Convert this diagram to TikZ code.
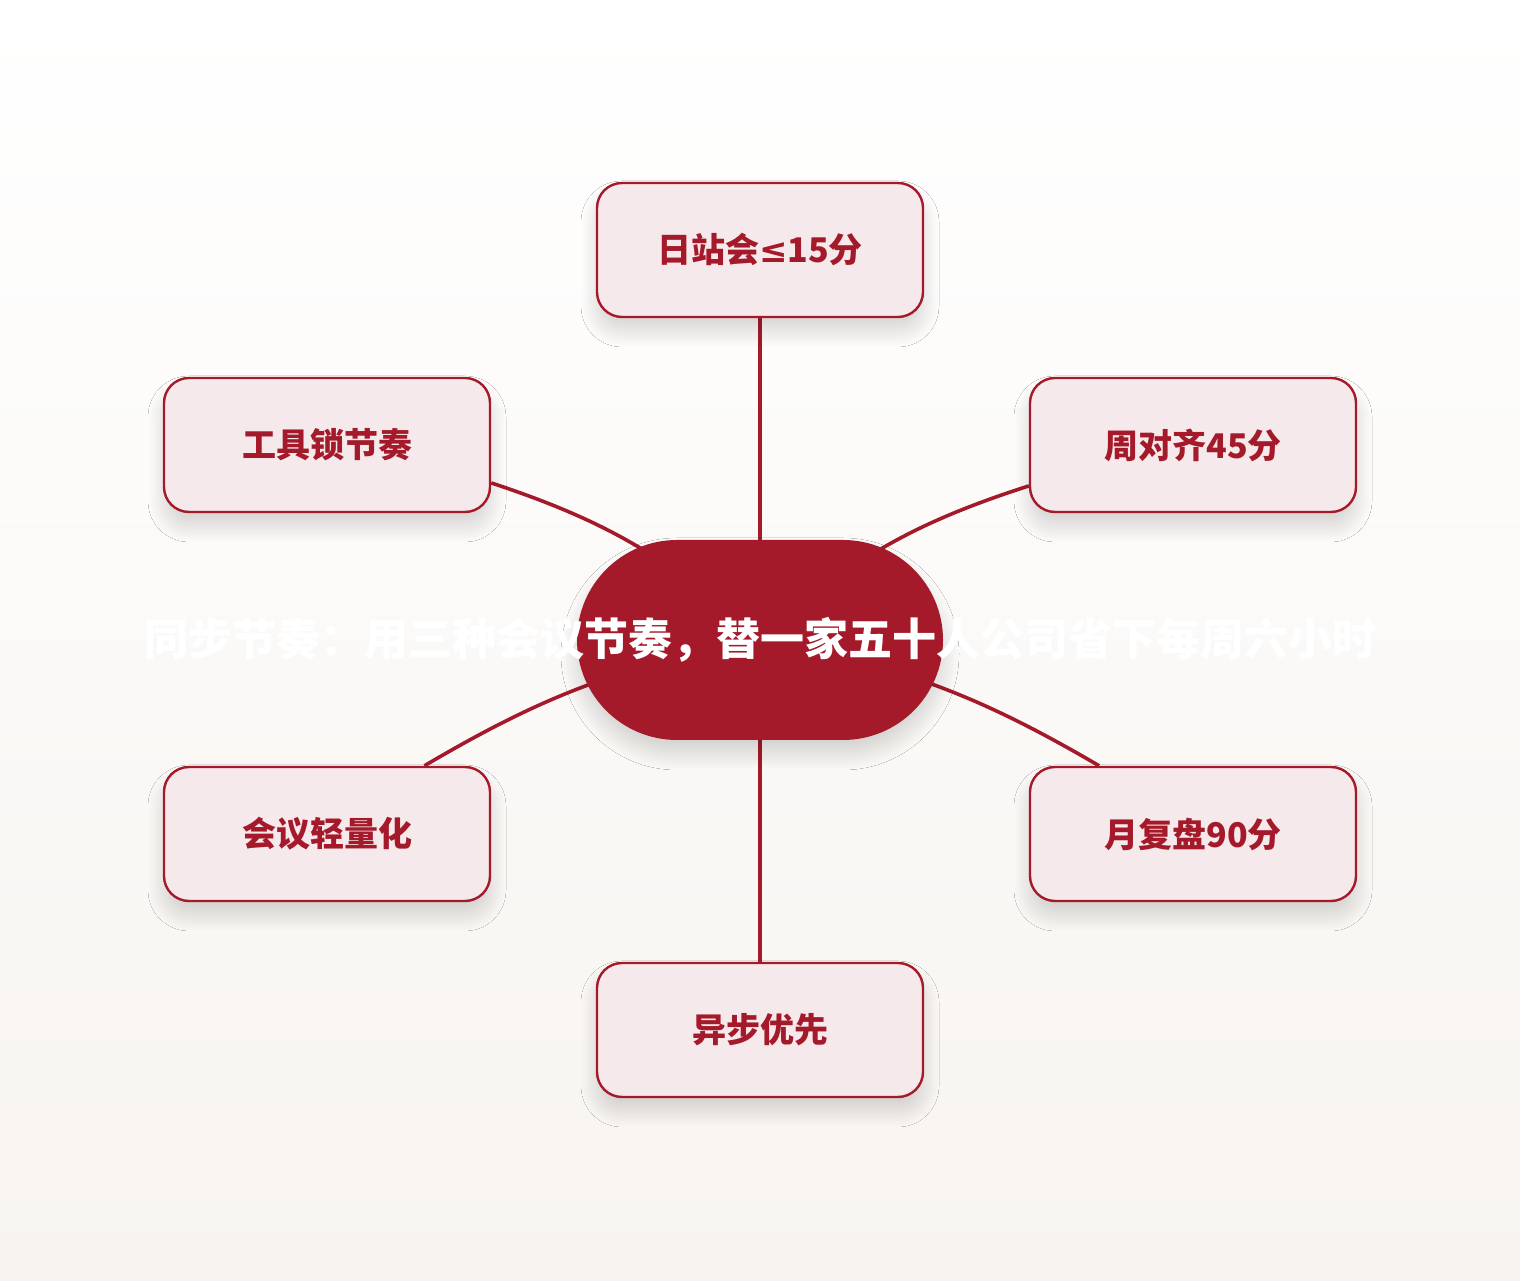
\documentclass[tikz,border=0pt]{standalone}
\usepackage{fontspec}
\newfontfamily\cjk{Noto Sans CJK SC}
\newfontfamily\symf{DejaVu Sans}
\usetikzlibrary{backgrounds,shadows.blur}
\definecolor{deepred}{HTML}{A51A2A}
\definecolor{pinkfill}{HTML}{F5E9EB}
\definecolor{bgbot}{HTML}{F7F4F0}
\begin{document}
\begin{tikzpicture}[x=1pt,y=1pt,
  softshadow/.style={blur shadow={shadow xshift=0pt,shadow yshift=-14pt,shadow blur radius=16pt,shadow blur steps=30,shadow opacity=16}},
  sat/.style={draw=deepred,line width=2.4pt,fill=pinkfill,rounded corners=25pt,
    minimum width=326pt,minimum height=134pt,text=deepred,
    font=\cjk\bfseries\fontsize{34}{40}\selectfont,softshadow},
  hub/.style={fill=deepred,rounded corners=100pt,minimum width=366pt,minimum height=200pt,
    text=white,font=\cjk\bfseries\fontsize{44}{54}\selectfont,softshadow},
  link/.style={draw=deepred,line width=3.6pt}]
% centre and the six themes
\node[hub] (hub) at (760,640) {\makebox[0pt][c]{同步节奏：用三种会议节奏，替一家五十人公司省下每周六小时}};
\node[sat] (tp) at (760,1030) {日站会{\symf\bfseries ≤}15分};
\node[sat] (lt) at (327,835) {工具锁节奏};
\node[sat] (rt) at (1193,835) {周对齐45分};
\node[sat] (lb) at (327,446) {会议轻量化};
\node[sat] (rb) at (1193,446) {月复盘90分};
\node[sat] (bt) at (760,250) {异步优先};
\begin{pgfonlayer}{background}
\shade[top color=white,bottom color=bgbot] (0,0) rectangle (1520,1280);
\draw[link] (tp.south) -- (hub.center);
\draw[link] (bt.north) -- (hub.center);
\draw[link] (lt.-13.5) to[bend left=12] (hub.center);
\draw[link] (rt.-166.5) to[bend right=12] (hub.center);
\draw[link] (lb.35.8) to[bend left=10] (hub.center);
\draw[link] (rb.144.2) to[bend right=10] (hub.center);
\end{pgfonlayer}
\end{tikzpicture}
\end{document}
